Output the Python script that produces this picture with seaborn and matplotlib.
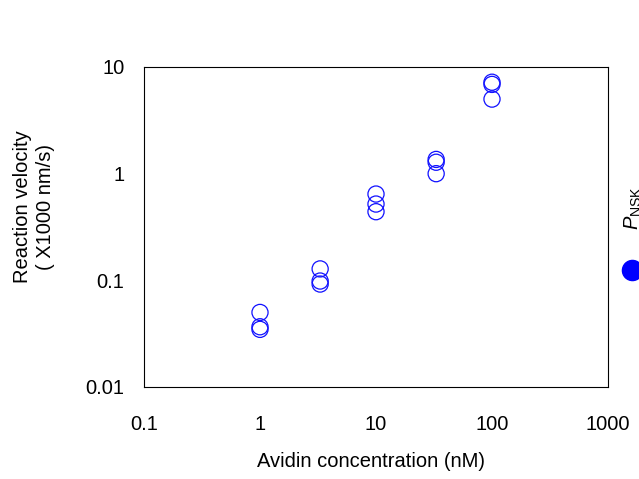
import matplotlib
matplotlib.use("Agg")
import matplotlib.pyplot as plt
import seaborn as sns
import pandas as pd

# values
avidin_nM = [1, 1, 1, 3.3, 3.3, 3.3, 10, 10, 10, 33, 33, 33, 100, 100, 100]
velocity = [0.050, 0.0367, 0.0347,
            0.128, 0.0985, 0.0923,
            0.644, 0.519, 0.44,
            1.36, 1.28, 1.0,
            7.2, 6.87, 5.0]
x_ticks = [0.1, 1, 10, 100, 1000]
x_tick_labels = ["0.1", "1", "10", "100", "1000"]
y_ticks = [0.01, 0.1, 1, 10]
y_tick_labels = ["0.01", "0.1", "1", "10"]

df = pd.DataFrame({"avidin": avidin_nM, "velocity": velocity})

sns.set_style("white")
plt.rcParams['font.family'] = ['Liberation Sans', 'DejaVu Sans']
plt.rcParams['mathtext.fontset'] = 'custom'
plt.rcParams['mathtext.it'] = 'Liberation Sans:italic'
plt.rcParams['mathtext.rm'] = 'Liberation Sans'
plt.rcParams['text.color'] = 'black'
plt.rcParams['axes.labelcolor'] = 'black'

W, H = 639, 479
fig = plt.figure(figsize=(W / 100, H / 100), dpi=100)
ax = fig.add_axes([144 / W, 1 - 387 / H, 464 / W, 320 / H])

sns.scatterplot(data=df, x="avidin", y="velocity", ax=ax, s=135,
                facecolor="none", edgecolor="#1010ff", linewidth=0.9,
                marker="o", legend=False)

ax.set_xscale("log")
ax.set_yscale("log")
ax.set_xlim(0.1, 1000)
ax.set_ylim(0.01, 10)
ax.set_xticks(x_ticks)
ax.set_xticklabels(x_tick_labels)
ax.set_yticks(y_ticks)
ax.set_yticklabels(y_tick_labels)
ax.minorticks_off()
ax.tick_params(direction="in", length=6, width=0.8, labelsize=14.5,
               colors="black")
ax.tick_params(axis="x", pad=20)
ax.tick_params(axis="y", pad=14)
for sp in ax.spines.values():
    sp.set_color("black")
    sp.set_linewidth(0.8)

ax.set_xlabel("Avidin concentration (nM)", fontsize=14.5)
ax.xaxis.set_label_coords((371 - 144) / 464, (387 - 452) / 320)
ax.set_ylabel("Reaction velocity\n( X1000 nm/s)", fontsize=14.5,
              va="center", linespacing=1.3)
ax.yaxis.set_label_coords((34 - 144) / 464, (387 - 207) / 320)

# clipped legend entry at the right edge (cut off in the original too)
fig.text(633 / W, 1 - 208 / H, r"$P_{\mathrm{NSK}}$", rotation=90,
         fontsize=14.5, ha="center", va="center")
fig.lines.append(plt.Line2D([632 / W], [1 - 270 / H], marker="o",
                            markersize=14.5, color="#0000ff",
                            transform=fig.transFigure))

fig.savefig("out.png", dpi=100)
